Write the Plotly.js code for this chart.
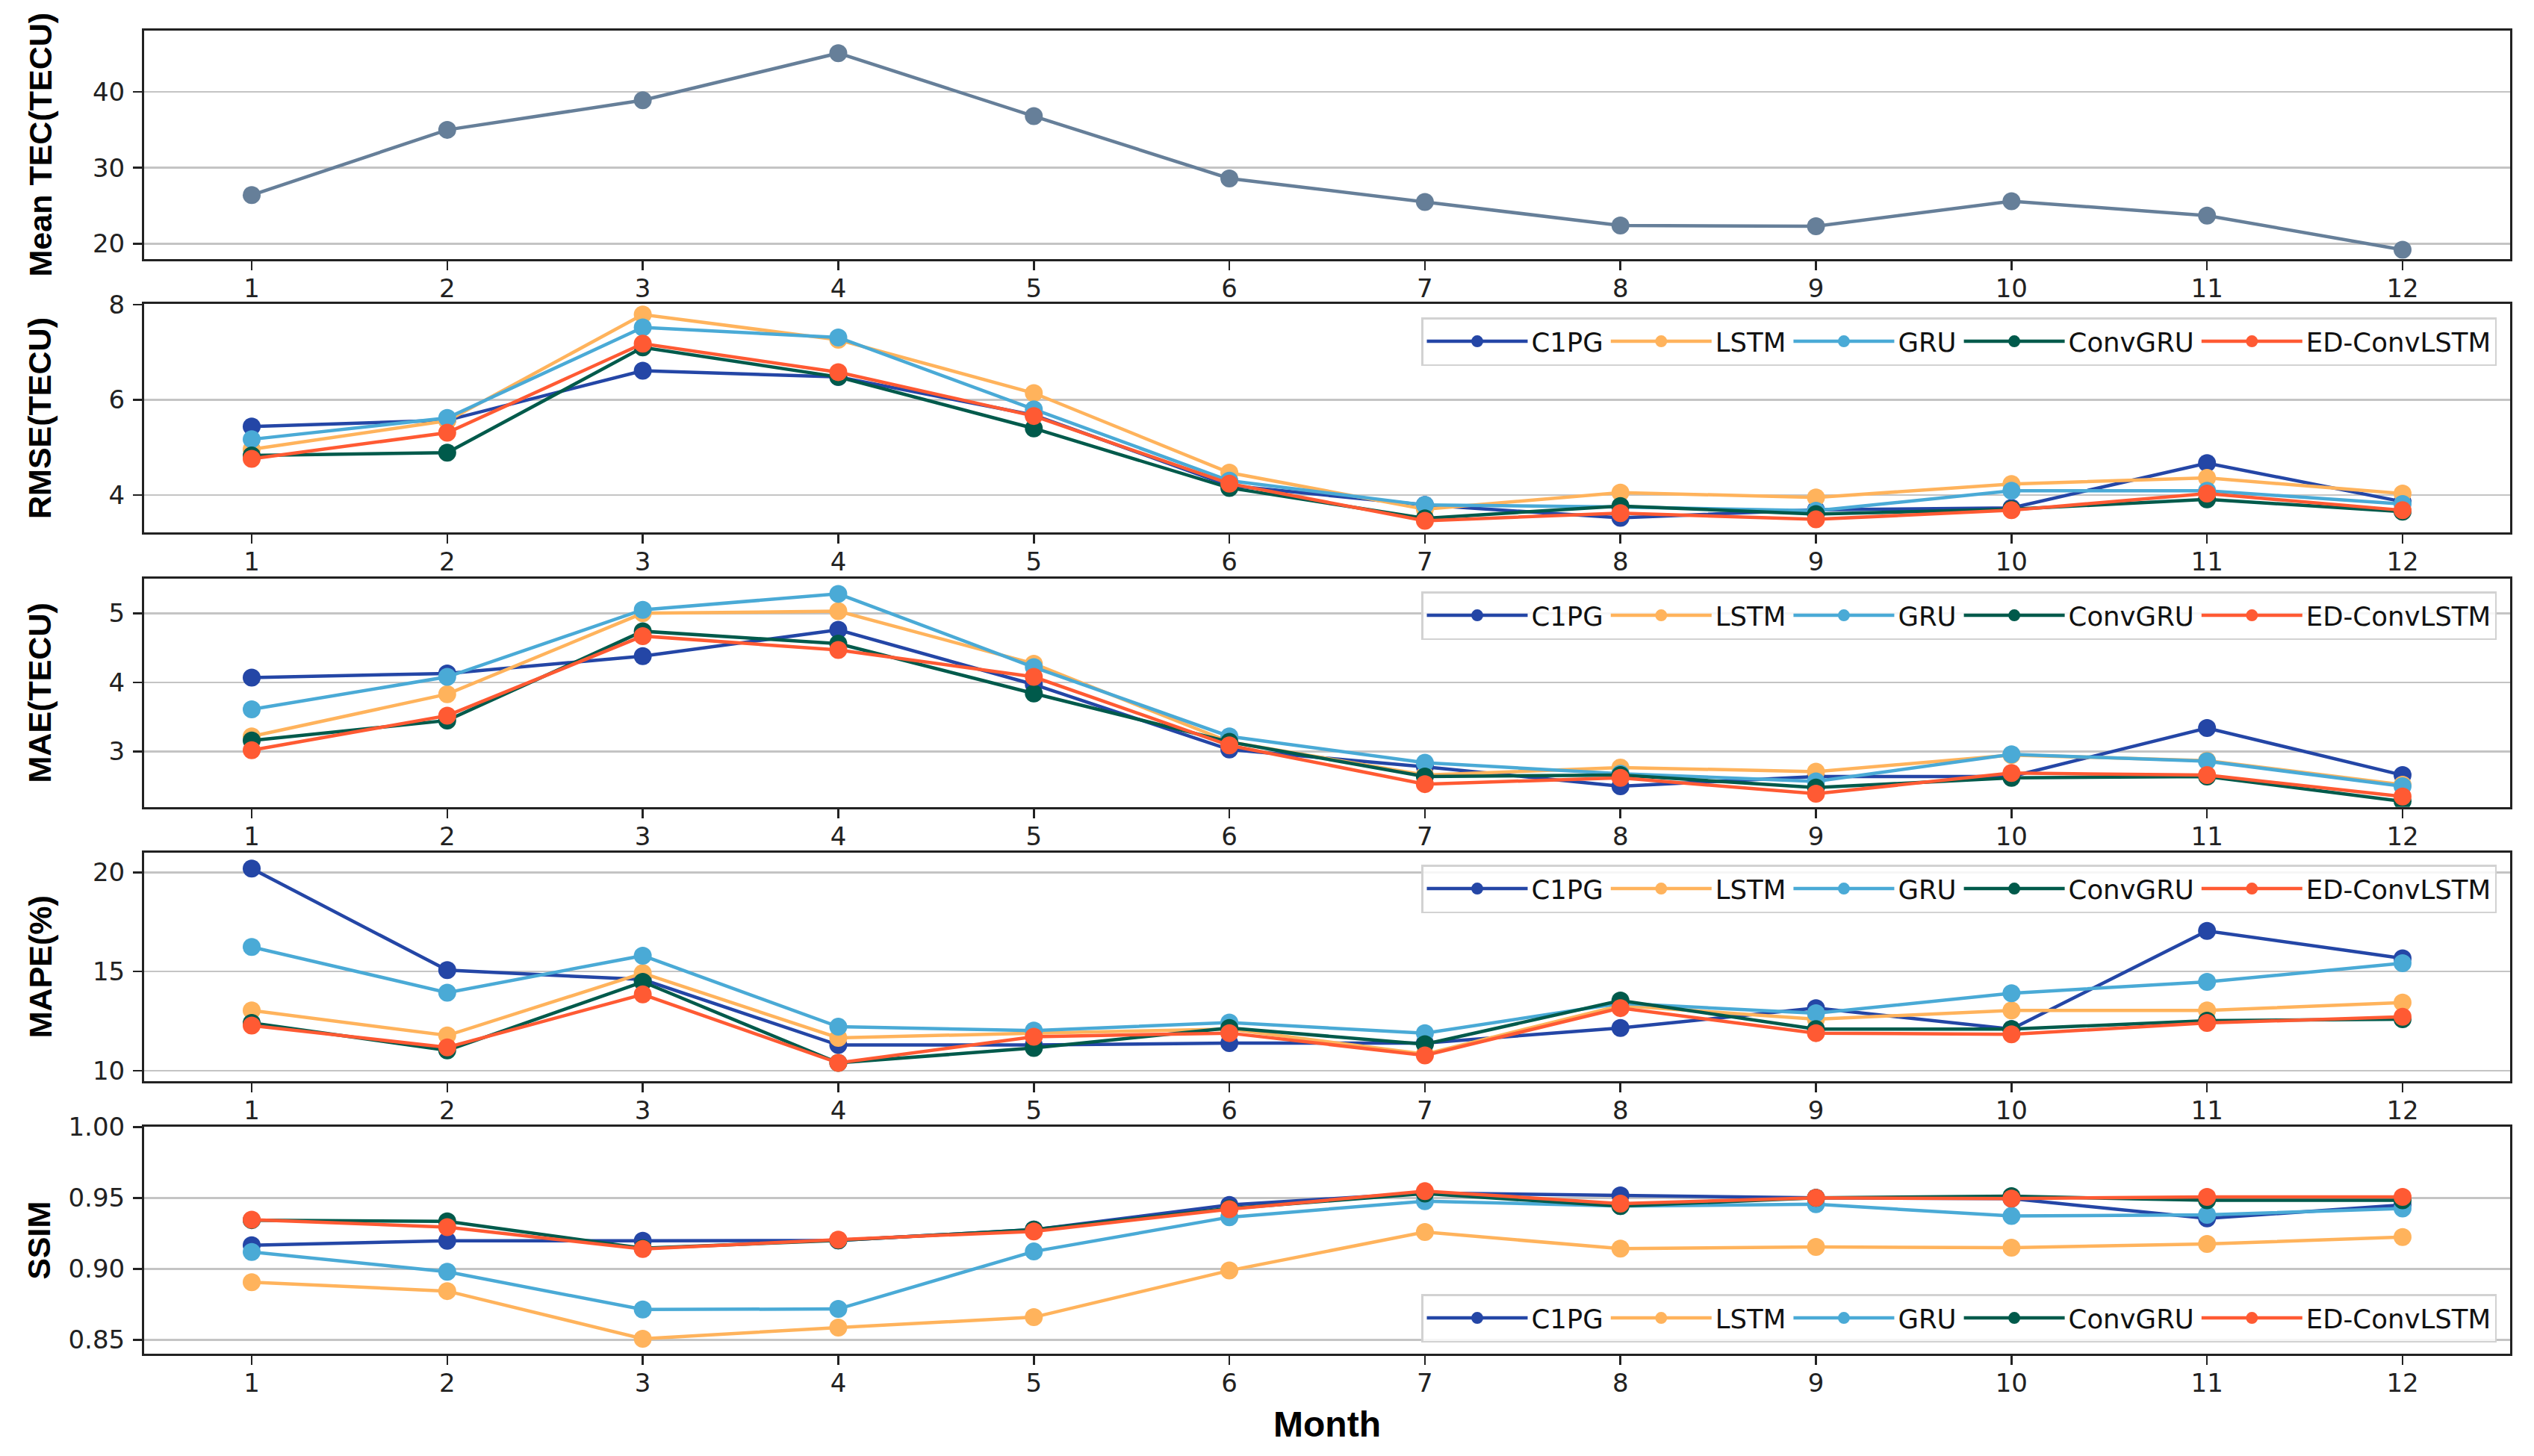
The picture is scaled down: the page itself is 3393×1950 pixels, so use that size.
<!DOCTYPE html>
<html><head><meta charset="utf-8">
<script src="https://cdn.plot.ly/plotly-3.0.1.min.js"></script>
<style>html,body{margin:0;padding:0;background:#fff}#chart{width:3393px;height:1950px}</style>
</head><body><div id="chart"></div>
<script>
const months = [1,2,3,4,5,6,7,8,9,10,11,12];
const monthLabels = ['1','2','3','4','5','6','7','8','9','10','11','12'];
const models = ['C1PG','LSTM','GRU','ConvGRU','ED-ConvLSTM'];
const meanTEC = [26.4, 35.0, 38.9, 45.1, 36.8, 28.6, 25.5, 22.4, 22.3, 25.6, 23.7, 19.2];

const rmseC1PG    = [5.44, 5.57, 6.61, 6.48, 5.68, 4.20, 3.79, 3.52, 3.69, 3.73, 4.67, 3.86];
const rmseLSTM    = [4.96, 5.56, 7.79, 7.26, 6.14, 4.47, 3.70, 4.05, 3.95, 4.23, 4.36, 4.03];
const rmseGRU     = [5.17, 5.62, 7.52, 7.31, 5.80, 4.30, 3.79, 3.75, 3.67, 4.09, 4.09, 3.81];
const rmseConvGRU = [4.83, 4.89, 7.10, 6.48, 5.40, 4.15, 3.51, 3.77, 3.60, 3.70, 3.91, 3.65];
const rmseED      = [4.76, 5.31, 7.18, 6.58, 5.66, 4.24, 3.46, 3.62, 3.49, 3.68, 4.03, 3.68];

const maeC1PG    = [4.07, 4.13, 4.38, 4.76, 3.97, 3.03, 2.78, 2.50, 2.64, 2.64, 3.34, 2.66];
const maeLSTM    = [3.22, 3.83, 5.00, 5.03, 4.27, 3.14, 2.66, 2.77, 2.71, 2.95, 2.87, 2.52];
const maeGRU     = [3.61, 4.08, 5.05, 5.28, 4.22, 3.22, 2.84, 2.68, 2.57, 2.96, 2.86, 2.50];
const maeConvGRU = [3.16, 3.45, 4.74, 4.56, 3.84, 3.14, 2.64, 2.66, 2.48, 2.62, 2.64, 2.28];
const maeED      = [3.02, 3.52, 4.67, 4.47, 4.08, 3.09, 2.53, 2.62, 2.39, 2.69, 2.66, 2.35];

const mapeC1PG    = [20.19, 15.07, 14.60, 11.30, 11.30, 11.40, 11.40, 12.16, 13.16, 12.10, 17.05, 15.67];
const mapeLSTM    = [13.04, 11.78, 14.92, 11.66, 11.90, 12.10, 10.84, 13.29, 12.60, 13.04, 13.04, 13.44];
const mapeGRU     = [16.24, 13.94, 15.80, 12.22, 12.03, 12.43, 11.90, 13.40, 12.90, 13.91, 14.48, 15.42];
const mapeConvGRU = [12.41, 11.03, 14.48, 10.40, 11.15, 12.16, 11.34, 13.54, 12.10, 12.10, 12.53, 12.60];
const mapeED      = [12.28, 11.18, 13.85, 10.40, 11.72, 11.90, 10.78, 13.16, 11.90, 11.84, 12.41, 12.72];

const ssimC1PG    = [0.9166, 0.9198, 0.9198, 0.9200, 0.9276, 0.9450, 0.9535, 0.9517, 0.9500, 0.9495, 0.9355, 0.9450];
const ssimLSTM    = [0.8906, 0.8843, 0.8507, 0.8586, 0.8659, 0.8988, 0.9259, 0.9142, 0.9154, 0.9149, 0.9175, 0.9224];
const ssimGRU     = [0.9119, 0.8979, 0.8713, 0.8717, 0.9122, 0.9364, 0.9477, 0.9442, 0.9455, 0.9372, 0.9381, 0.9425];
const ssimConvGRU = [0.9343, 0.9334, 0.9145, 0.9200, 0.9276, 0.9425, 0.9530, 0.9442, 0.9500, 0.9512, 0.9483, 0.9483];
const ssimED      = [0.9346, 0.9294, 0.9140, 0.9206, 0.9264, 0.9420, 0.9547, 0.9460, 0.9500, 0.9495, 0.9507, 0.9507];

const colors = ['#2446a6', '#ffb35c', '#4aaad6', '#005a4b', '#ff5a33'];
const tecColor = '#667f99';

const panels = [
  {title:'RMSE(TECU)', series:[rmseC1PG, rmseLSTM, rmseGRU, rmseConvGRU, rmseED]},
  {title:'MAE(TECU)',  series:[maeC1PG, maeLSTM, maeGRU, maeConvGRU, maeED]},
  {title:'MAPE(%)',    series:[mapeC1PG, mapeLSTM, mapeGRU, mapeConvGRU, mapeED]},
  {title:'SSIM',       series:[ssimC1PG, ssimLSTM, ssimGRU, ssimConvGRU, ssimED]}
];

const W = 3393, H = 1950;
const plotL = 193, plotR = 3361;
const tops = [40.7, 407.3, 775, 1141.7, 1509.3];
const bots = [346.7, 712.7, 1080.7, 1447.7, 1813.3];
const yRanges = [[18.0, 48.1], [3.22, 8.01], [2.2, 5.5], [9.49, 21.0], [0.840, 1.0]];
const yTicks = [[20,30,40], [4,6,8], [3,4,5], [10,15,20], [0.85,0.90,0.95,1.00]];
const yTickFmt = ['', '', '', '', '.2f'];
const standoffs = [41, 64, 64, 41, 11];
const legendTops = [null, 425, 792, 1158, 1733];

const tickFont = {family:'DejaVu Sans, sans-serif', size:34, color:'#222'};
const titleFont = {family:'Liberation Sans, Arial, sans-serif', size:43, color:'#000', weight:'bold'};
const xTitleFont = {family:'Liberation Sans, Arial, sans-serif', size:48, color:'#000', weight:'bold'};

const traces = [];
traces.push({x:months, y:meanTEC, type:'scatter', mode:'lines+markers', name:'Mean TEC',
  line:{color:tecColor, width:4.5}, marker:{color:tecColor, size:24}, showlegend:false, xaxis:'x', yaxis:'y'});

panels.forEach((p, pi) => {
  const ax = pi + 2;
  const legName = pi === 0 ? 'legend' : 'legend' + (pi + 1);
  p.series.forEach((vals, si) => {
    traces.push({x:months, y:vals, type:'scatter', mode:'lines+markers', name:models[si],
      line:{color:colors[si], width:4.5}, marker:{color:colors[si], size:24},
      xaxis:'x' + ax, yaxis:'y' + ax, legend:legName});
  });
});

const layout = {
  width:W, height:H, paper_bgcolor:'#fff', plot_bgcolor:'#fff',
  margin:{l:0, r:0, t:0, b:0, autoexpand:false},
  showlegend:true
};

for (let i = 0; i < 5; i++) {
  const s = i === 0 ? '' : String(i + 1);
  layout['xaxis' + s] = {
    domain:[plotL / W, plotR / W], anchor:'y' + s, range:[0.45, 12.55],
    tickvals:months, ticktext:monthLabels, ticks:'outside', ticklen:12, tickwidth:2.5, tickcolor:'#222',
    ticklabelstandoff:-5,
    showline:true, linecolor:'#222', linewidth:3, mirror:true, showgrid:false, zeroline:false,
    tickfont:tickFont, automargin:false
  };
  if (i === 4) {
    layout['xaxis' + s].title = {text:'Month', font:xTitleFont, standoff:20};
  }
  const yax = {
    domain:[1 - bots[i] / H, 1 - tops[i] / H], anchor:'x' + s, range:yRanges[i],
    tickvals:yTicks[i], ticks:'outside', ticklen:12, tickwidth:2.5, tickcolor:'#222',
    ticklabelstandoff:4,
    showline:true, linecolor:'#222', linewidth:3, mirror:true,
    showgrid:true, gridcolor:'#c4c4c4', gridwidth:2.5, zeroline:false,
    tickfont:tickFont, automargin:false,
    title:{text: i === 0 ? 'Mean TEC(TECU)' : panels[i - 1].title, font:titleFont, standoff:standoffs[i]}
  };
  if (yTickFmt[i]) yax.tickformat = yTickFmt[i];
  layout['yaxis' + s] = yax;
  if (i > 0) {
    const legName = i === 1 ? 'legend' : 'legend' + i;
    layout[legName] = {
      orientation:'h', x:3343 / W, xanchor:'right', y:1 - legendTops[i] / H, yanchor:'top',
      bgcolor:'rgba(255,255,255,0.85)', bordercolor:'#d2d2d2', borderwidth:2.5,
      font:{family:'DejaVu Sans, sans-serif', size:35.5, color:'#111'}, itemwidth:135
    };
  }
}

Plotly.newPlot('chart', traces, layout, {staticPlot:true});
</script></body></html>
